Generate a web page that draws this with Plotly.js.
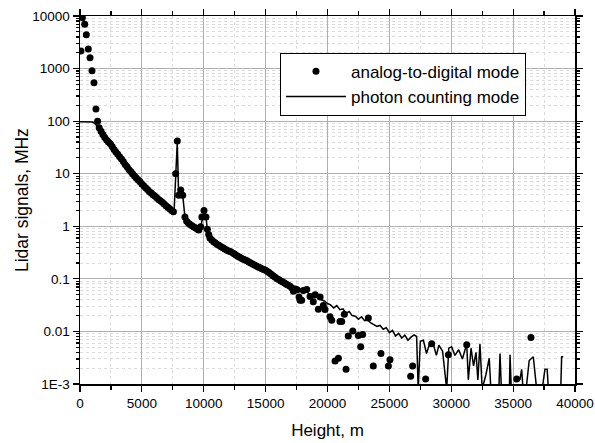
<!DOCTYPE html>
<html>
<head>
<meta charset="utf-8">
<script src="https://cdn.plot.ly/plotly-3.0.1.min.js"></script>
<style>
html,body{margin:0;padding:0;background:#fff;}
#chart{width:595px;height:443px;}
</style>
</head>
<body>
<div id="chart"></div>
<script>
// Analog-to-digital mode (dots)
const adcHeight = [75,190,380,510,670,810,970,1130,1290,1420,
1550,1700,1850,2000,2150,2300,2450,2600,2750,2900,3050,3200,3350,3500,3650,3800,3950,4100,4250,4400,
4550,4700,4850,5000,5150,5300,5450,5600,5750,5900,6050,6200,6350,6500,6650,6800,6950,7100,7250,7400,7550,
7730,7860,7970,8140,8300,8480,8620,8750,8900,9050,9200,9350,9500,9600,9750,9850,10020,10180,10290,10400,10500,
10650,10800,10950,11100,11250,11400,11550,11700,11850,12000,12150,12300,12450,12600,12750,12900,13050,13200,13350,13500,
13650,13800,13950,14100,14250,14400,14550,14700,14850,15000,15150,15300,15450,15600,15750,15900,16050,16200,16350,16500,
16650,16800,16950,17100,17250,17400,17550,17700,17780,17910,18050,18320,18590,18850,19000,19260,19400,19660,19800,20200,
20340,20610,20880,21010,21150,21360,21500,21680,22040,22490,22680,22840,23300,23700,24320,24920,25050,26720,26880,27930,
28420,29770,31250,35290,36440];
const adcSignal = [2150,9300,7000,4400,2350,1600,910,540,170,100,
75,64,56,49,44,40,37,33,29,26,23.5,21,19,17,15,13.5,12,11,10,9,
8.3,7.6,7,6.4,5.9,5.4,5,4.6,4.3,4,3.75,3.5,3.25,3.05,2.85,2.65,2.45,2.3,2.15,2.0,1.9,
10,42,3.9,4.9,3.9,1.5,1.25,1.15,1.08,1.02,0.97,0.93,0.88,0.85,0.98,1.5,2.0,1.5,0.88,0.7,0.6,
0.55,0.51,0.48,0.45,0.43,0.41,0.39,0.37,0.355,0.34,0.33,0.315,0.3,0.285,0.27,0.258,0.247,0.237,0.228,0.22,
0.21,0.2,0.192,0.184,0.176,0.168,0.162,0.156,0.15,0.145,0.138,0.13,0.122,0.114,0.108,0.102,0.097,0.092,0.088,0.084,
0.08,0.076,0.073,0.068,0.058,0.064,0.062,0.045,0.039,0.039,0.06,0.063,0.046,0.0367,0.05,0.0264,0.045,0.031,0.026,0.0191,
0.0163,0.00275,0.0031,0.0155,0.0155,0.0212,0.0019,0.0082,0.0102,0.0084,0.0051,0.0087,0.018,0.0022,0.0038,0.0022,0.0029,0.0014,0.0022,0.00125,
0.0058,0.0036,0.0056,0.00124,0.0077];

// Photon counting mode (line); null = zero count (gap on log axis)
const pcHeight = [0,250,500,750,1000,1150,1300,1450,1600,1800,2000,2200,2400,2600,2800,3000,3250,3500,3750,4000,
4250,4500,4750,5000,5250,5500,5750,6000,6250,6500,6750,7000,7250,7500,7600,7730,7860,7970,8140,8300,
8480,8620,8800,9000,9200,9400,9560,9750,9900,10050,10180,10290,10500,10750,11000,11250,11500,11750,12000,12250,
12500,12750,13000,13250,13500,13750,14000,14250,14500,14750,15000,15250,15500,15750,16000,16250,16500,16750,17000,17250,
17500,17750,18000,18250,18500,18750,19000,19250,19500,19750,20000,20250,20500,20750,21000,21250,21500,21750,22000,22250,
22500,22750,23000,23250,23500,23750,24000,24250,24500,24750,25000,25250,25500,25750,26000,26250,26500,26750,27000,27200,
27330,27500,27750,28000,28250,28550,28800,29000,29300,29630,29800,30030,30300,30600,30900,31250,31380,31600,31800,32000,
32150,32320,32500,32800,33070,33200,33500,33850,33940,34050,34300,34700,34750,34850,35100,35550,35690,35800,36000,36050,
36300,36630,36900,37200,37350,37570,37750,37850,38100,38850,38920,39050];
const pcSignal = [97,97,97,97,96,92,85,75,65,55,47,42,38,33,28,24,20,16.5,13.5,11.2,
9.5,8.2,7.2,6.3,5.5,4.8,4.2,3.8,3.4,3.0,2.7,2.4,2.15,1.9,1.85,10,40,3.9,4.9,3.9,
1.5,1.25,1.12,1.02,0.95,0.9,0.85,0.98,1.5,2.0,1.5,0.88,0.6,0.52,0.46,0.42,0.39,0.36,0.34,0.32,
0.3,0.27,0.25,0.235,0.22,0.205,0.19,0.178,0.165,0.155,0.146,0.135,0.124,0.112,0.1,0.092,0.085,0.08,0.078,0.072,
0.066,0.064,0.06,0.058,0.052,0.05,0.044,0.046,0.04,0.038,0.034,0.032,0.028,0.031,0.026,0.027,0.022,0.024,0.02,0.0195,
0.017,0.019,0.016,0.0165,0.0145,0.0135,0.0125,0.013,0.011,0.0118,0.0095,0.0105,0.0082,0.0092,0.0075,0.0085,0.0068,0.0078,0.0086,0.008,
0.0008,0.0065,0.0068,0.0038,0.0058,0.0057,0.0035,0.0055,0.0042,0.0008,0.0048,0.0051,0.0035,0.0045,0.003,0.0058,0.0012,0.0048,0.0022,0.004,
0.0012,0.0058,0.0008,0.0015,0.0031,0.0008,null,0.0008,0.0038,0.0008,null,0.0008,0.0036,0.0008,null,0.0012,0.0019,0.0008,null,0.0008,
0.0028,0.0033,0.0008,null,0.0008,0.0019,0.0019,0.0008,null,0.0008,0.0033,0.0033];

const yTickVals = [0.001,0.01,0.1,1,10,100,1000,10000];
const yTickText = ["1E-3","0.01","0.1","1","10","100","1000","10000"];
const xTickVals = [0,5000,10000,15000,20000,25000,30000,35000,40000];
const xTickText = ["0","5000","10000","15000","20000","25000","30000","35000","40000"];

const traces = [
  {
    x: adcHeight, y: adcSignal, type: 'scatter', mode: 'markers',
    name: 'analog-to-digital mode',
    marker: {color: '#000', size: 7}
  },
  {
    x: pcHeight, y: pcSignal, type: 'scatter', mode: 'lines',
    name: 'photon counting mode', connectgaps: false,
    line: {color: '#000', width: 1.5}
  }
];

const fontFam = 'Liberation Sans, Arial, sans-serif';
const layout = {
  width: 595, height: 443,
  margin: {l: 80, r: 20, t: 16, b: 59},
  paper_bgcolor: '#fff', plot_bgcolor: '#fff',
  font: {family: fontFam, color: '#000', size: 13},
  showlegend: true,
  legend: {
    x: 0.404, y: 0.9, xanchor: 'left', yanchor: 'top',
    bgcolor: '#fff', bordercolor: '#000', borderwidth: 1,
    font: {family: fontFam, size: 17, color: '#000'},
    itemwidth: 60, tracegroupgap: 0
  },
  xaxis: {
    range: [0, 40000], tickmode: 'array', tickvals: xTickVals, ticktext: xTickText,
    ticks: 'outside', ticklen: 6, tickwidth: 1.2, tickcolor: '#000',
    showline: true, linecolor: '#000', linewidth: 1.5, mirror: 'allticks',
    showgrid: true, gridcolor: '#b0b0b0', gridwidth: 1, zeroline: false,
    tickfont: {family: fontFam, size: 13.5},
    minor: {dtick: 2500, ticks: 'outside', ticklen: 4, tickcolor: '#000',
            showgrid: true, gridcolor: '#dcdcdc', griddash: 'dot', gridwidth: 1},
    title: {text: 'Height, m', font: {family: fontFam, size: 17}, standoff: 14}
  },
  yaxis: {
    type: 'log', range: [-3, 4], tickmode: 'array', tickvals: yTickVals, ticktext: yTickText,
    ticks: 'outside', ticklen: 6, tickwidth: 1.2, tickcolor: '#000',
    showline: true, linecolor: '#000', linewidth: 1.5, mirror: 'allticks',
    showgrid: true, gridcolor: '#b0b0b0', gridwidth: 1, zeroline: false,
    tickfont: {family: fontFam, size: 13.5},
    minor: {dtick: 'D1', ticks: 'outside', ticklen: 3, tickcolor: '#000',
            showgrid: true, gridcolor: '#dcdcdc', griddash: 'dot', gridwidth: 1}
  },
  annotations: [{
    text: 'Lidar signals, MHz', textangle: -90, showarrow: false,
    xref: 'paper', yref: 'paper', x: -0.117, y: 0.5,
    xanchor: 'center', yanchor: 'middle',
    font: {family: fontFam, size: 17.5, color: '#000'}
  }]
};

Plotly.newPlot('chart', traces, layout, {displayModeBar: false, staticPlot: true});
</script>
</body>
</html>
